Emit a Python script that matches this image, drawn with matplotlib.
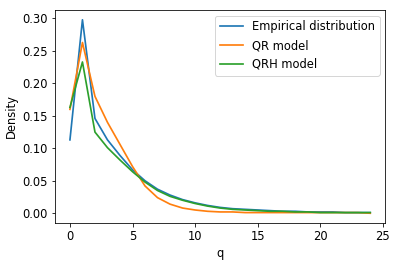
import numpy as np
import matplotlib
matplotlib.use("Agg")
import matplotlib.pyplot as plt

# density of q for the data and the two models
q = np.arange(0, 25)
empirical = [0.113, 0.298, 0.146, 0.113, 0.089, 0.067, 0.050, 0.037, 0.028, 0.021, 0.016,
             0.012, 0.009, 0.007, 0.006, 0.005, 0.004, 0.003, 0.003, 0.002, 0.002, 0.002,
             0.001, 0.001, 0.001]
qr_model = [0.160, 0.263, 0.180, 0.140, 0.106, 0.072, 0.042, 0.024, 0.014, 0.008, 0.005,
            0.003, 0.002, 0.002, 0.001, 0.001, 0.001, 0.001, 0.001, 0.001, 0.001, 0.001,
            0.001, 0.001, 0.000]
qrh_model = [0.163, 0.233, 0.125, 0.101, 0.082, 0.064, 0.048, 0.035, 0.026, 0.020, 0.015,
             0.011, 0.008, 0.006, 0.005, 0.004, 0.003, 0.003, 0.002, 0.002, 0.001, 0.001,
             0.001, 0.001, 0.001]

plt.rcParams["font.size"] = 11.5
plt.rcParams["lines.linewidth"] = 1.7

dpi = 72
fig = plt.figure(figsize=(398 / dpi, 266 / dpi), dpi=dpi)
ax = fig.add_subplot(111)
fig.subplots_adjust(left=0.138, right=0.968, top=0.962, bottom=0.162)

ax.plot(q, empirical, label="Empirical distribution")
ax.plot(q, qr_model, label="QR model")
ax.plot(q, qrh_model, label="QRH model")
ax.set_xlabel("q")
ax.set_ylabel("Density")
ax.legend()

plt.savefig("out.png", dpi=dpi)
